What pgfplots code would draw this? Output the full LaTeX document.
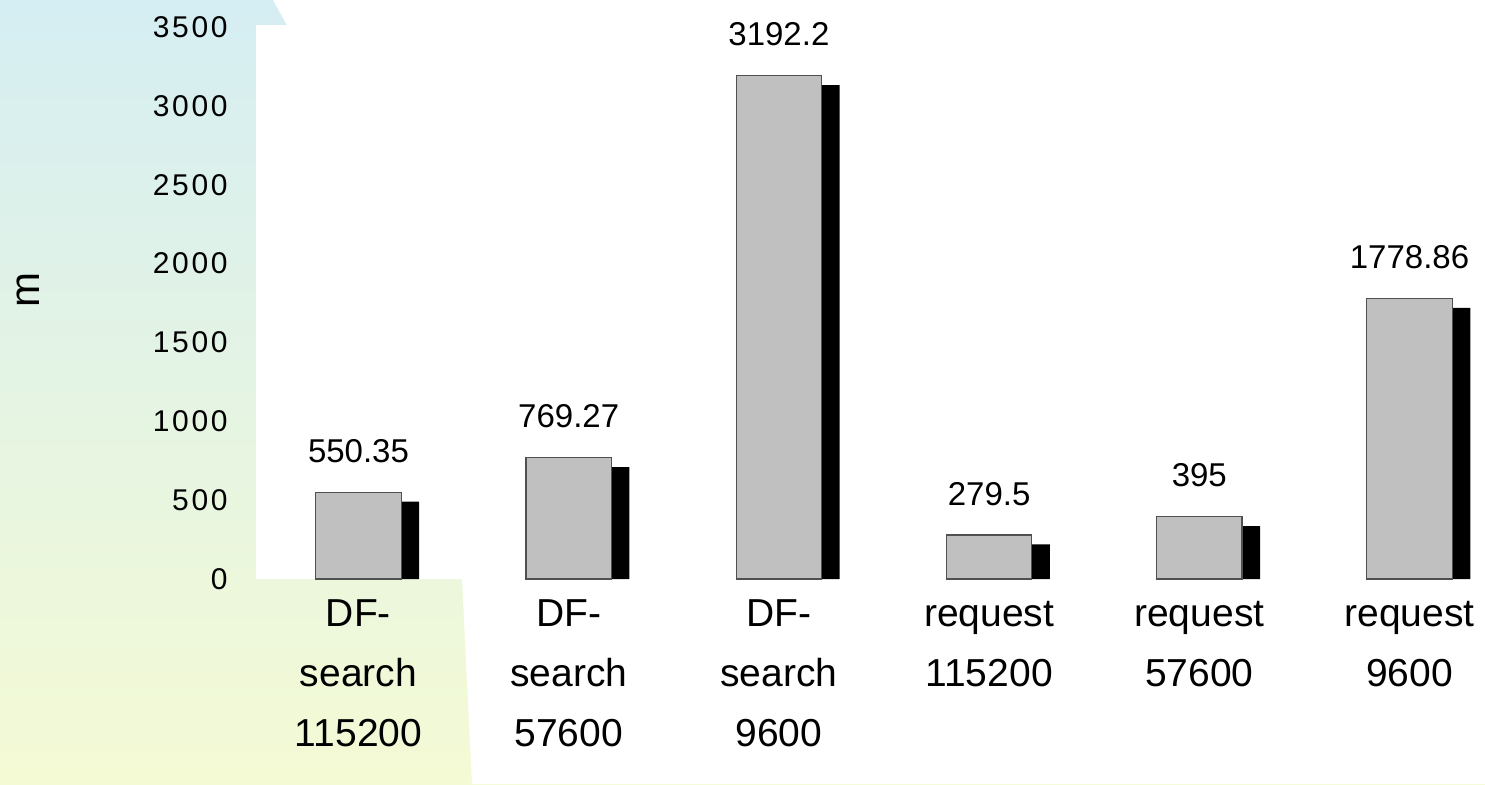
\documentclass[border=0pt]{standalone}
\usepackage{pgfplots}
\pgfplotsset{compat=1.18}
\usepackage{pgfplotstable}
\usepackage{fontspec}
\setmainfont{Liberation Sans}
\newfontfamily\tickfont[LetterSpace=9]{Liberation Sans}
\definecolor{bgtop}{HTML}{D5EEF3}
\definecolor{bgbot}{HTML}{F4FAD4}
\definecolor{bargray}{HTML}{C0C0C0}
\definecolor{baredge}{HTML}{505050}

\pgfplotstableread{
x y lbl
0 550.35 550.35
1 769.27 769.27
2 3192.2 3192.2
3 279.5 279.5
4 395 395
5 1778.86 1778.86
}\datatable

\begin{document}
\begin{tikzpicture}
\begin{scope}[x=0.5pt,y=-0.5pt]
\path[use as bounding box] (0,0) rectangle (1485,784);
\shade[top color=bgtop,bottom color=bgbot] (0,0) rectangle (1485,784);
\fill[white] (256,25) -- (287,25) -- (273,0) -- (1485,0) -- (1485,784) -- (472,784) -- (462,579) -- (256,579) -- cycle;
\end{scope}
\begin{axis}[
  at={(129pt,-289.5pt)}, anchor=south west,
  scale only axis, width=613.5pt, height=276pt,
  xmin=-0.478, xmax=5.359, ymin=0, ymax=3500,
  axis line style={draw=none}, tick style={draw=none},
  /pgf/number format/1000 sep={},
  /pgf/number format/assume math mode=true,
  ytick={0,500,...,3500},
  yticklabel style={font=\tickfont\fontsize{15}{18}\selectfont, anchor=east, inner sep=0pt, xshift=-15pt},
  xtick={0,...,5},
  xticklabels={{\vphantom{D}DF-\\search\\115200},{\vphantom{D}DF-\\search\\57600},{\vphantom{D}DF-\\search\\9600},{\vphantom{D}request\\115200},{\vphantom{D}request\\57600},{\vphantom{D}request\\9600}},
  xticklabel style={font=\fontsize{19.5}{30}\selectfont, align=center, anchor=north, inner sep=0pt, yshift=-10pt},
  ylabel={m},
  ylabel style={at={(axis description cs:-0.1875,0.5236)}, anchor=center, font=\fontsize{21}{24}\selectfont},
]
\addplot[ybar, bar width=42.75pt, bar shift=9pt, fill=black, draw=none] table[x=x, y expr=\thisrow{y}-60] {\datatable};
\addplot[ybar, bar width=42.75pt, bar shift=0pt, fill=bargray, draw=baredge, line width=0.6pt,
  point meta=explicit symbolic, nodes near coords,
  nodes near coords style={font=\fontsize{16.5}{19}\selectfont, anchor=south, inner sep=0pt, yshift=14.5pt, text=black}]
  table[x=x, y=y, meta=lbl] {\datatable};
\end{axis}
\end{tikzpicture}
\end{document}
